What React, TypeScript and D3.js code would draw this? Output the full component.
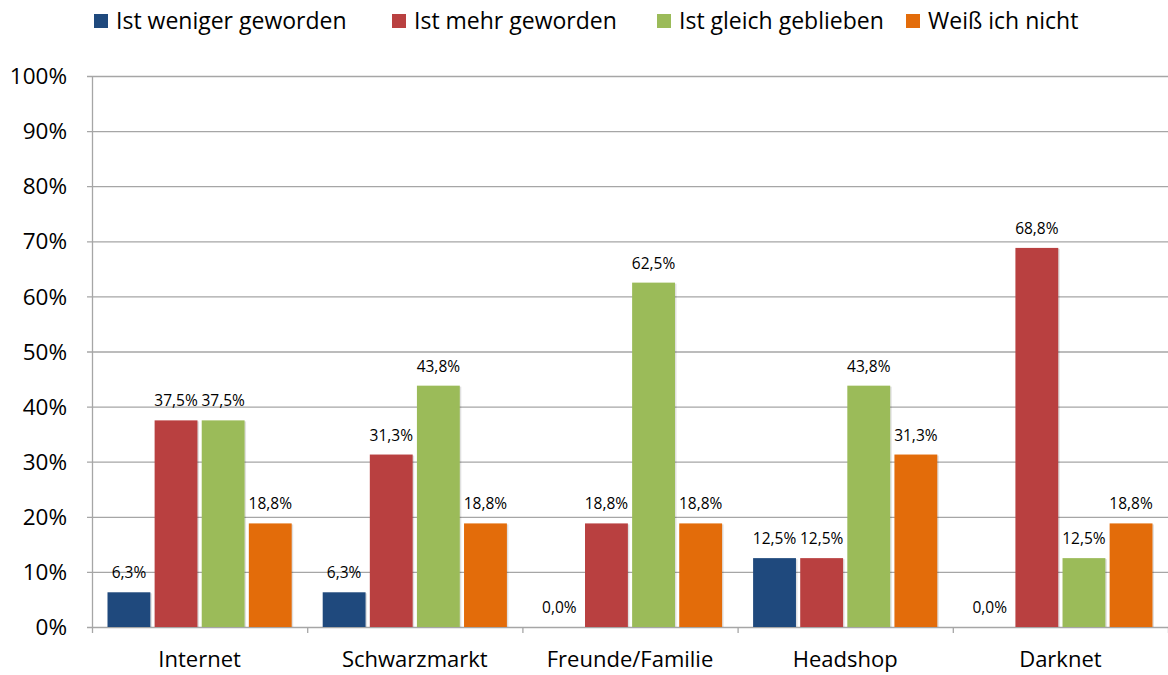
import React, { useEffect, useRef } from 'react';
import * as d3 from 'd3';

const categories = ['Internet', 'Schwarzmarkt', 'Freunde/Familie', 'Headshop', 'Darknet'];
const seriesNames = ['Ist weniger geworden', 'Ist mehr geworden', 'Ist gleich geblieben', 'Weiß ich nicht'];
const seriesColors = ['#1f497d', '#b94040', '#9bbb59', '#e36c0a'];
const weniger = [6.3, 6.3, 0.0, 12.5, 0.0];
const mehr = [37.5, 31.3, 18.8, 12.5, 68.8];
const gleich = [37.5, 43.8, 62.5, 43.8, 12.5];
const weissNicht = [18.8, 18.8, 18.8, 31.3, 18.8];
const yTicks = [0, 10, 20, 30, 40, 50, 60, 70, 80, 90, 100];

const seriesValues = [weniger, mehr, gleich, weissNicht];
const FONT = '"Open Sans", sans-serif';

const App: React.FC = () => {
  const ref = useRef<SVGSVGElement | null>(null);

  useEffect(() => {
    if (!ref.current) return;
    const svg = d3.select(ref.current);
    svg.selectAll('*').remove();

    const left = 92, right = 1168, top = 76, bottom = 627;

    const x0 = d3.scaleBand().domain(categories).range([left, right]).paddingInner(0).paddingOuter(0);
    const x1 = d3.scaleBand().domain(seriesNames).range([15.5, x0.bandwidth() - 15.5]).paddingInner(0.09).paddingOuter(0);
    const y = d3.scaleLinear().domain([0, 100]).range([bottom, top]);

    // gridlines
    svg.append('g')
      .selectAll('line')
      .data(yTicks)
      .enter()
      .append('line')
      .attr('x1', left - 5)
      .attr('x2', right)
      .attr('y1', d => y(d) + 0.5)
      .attr('y2', d => y(d) + 0.5)
      .attr('stroke', '#a6a6a6')
      .attr('stroke-width', 1.3);

    // y axis line
    svg.append('line')
      .attr('x1', left + 0.5).attr('x2', left + 0.5)
      .attr('y1', top).attr('y2', bottom + 1)
      .attr('stroke', '#a6a6a6').attr('stroke-width', 1.3);

    // y labels
    svg.append('g')
      .selectAll('text')
      .data(yTicks)
      .enter()
      .append('text')
      .attr('x', 67)
      .attr('y', d => y(d))
      .attr('dy', '0.36em')
      .attr('text-anchor', 'end')
      .attr('font-family', FONT)
      .attr('font-size', 22.5)
      .attr('fill', '#000')
      .text(d => `${d}%`);

    // category ticks
    const tickX = categories.map(c => x0(c) as number).concat([right]);
    svg.append('g')
      .selectAll('line')
      .data(tickX)
      .enter()
      .append('line')
      .attr('x1', d => d + 0.5).attr('x2', d => d + 0.5)
      .attr('y1', bottom).attr('y2', bottom + 6)
      .attr('stroke', '#a6a6a6').attr('stroke-width', 1.3);

    // category labels
    svg.append('g')
      .selectAll('text')
      .data(categories)
      .enter()
      .append('text')
      .attr('x', d => (x0(d) as number) + x0.bandwidth() / 2)
      .attr('y', 667)
      .attr('text-anchor', 'middle')
      .attr('font-family', FONT)
      .attr('font-size', 22)
      .attr('fill', '#000')
      .text(d => d);

    // bars
    const data = categories.flatMap((c, ci) =>
      seriesNames.map((s, si) => ({ c, s, si, v: seriesValues[si][ci] })));

    const groups = svg.append('g');
    groups.selectAll('rect.shadow')
      .data(data.filter(d => d.v > 0))
      .enter()
      .append('rect')
      .attr('class', 'shadow')
      .attr('x', d => (x0(d.c) as number) + (x1(d.s) as number) + 1.5)
      .attr('y', d => y(d.v) + 1)
      .attr('width', x1.bandwidth())
      .attr('height', d => bottom - y(d.v) - 1)
      .attr('fill', '#000')
      .attr('opacity', 0.12);

    groups.selectAll('rect.bar')
      .data(data.filter(d => d.v > 0))
      .enter()
      .append('rect')
      .attr('class', 'bar')
      .attr('x', d => (x0(d.c) as number) + (x1(d.s) as number))
      .attr('y', d => y(d.v))
      .attr('width', x1.bandwidth())
      .attr('height', d => bottom - y(d.v))
      .attr('fill', d => seriesColors[d.si]);

    // value labels
    groups.selectAll('text.val')
      .data(data)
      .enter()
      .append('text')
      .attr('class', 'val')
      .attr('x', d => (x0(d.c) as number) + (x1(d.s) as number) + x1.bandwidth() / 2)
      .attr('y', d => y(d.v) - 14)
      .attr('text-anchor', 'middle')
      .attr('font-family', FONT)
      .attr('font-size', 15.5)
      .attr('fill', '#000')
      .text(d => d.v.toFixed(1).replace('.', ',') + '%');

    // legend
    const legendX = [94, 392, 657, 906];
    const legend = svg.append('g')
      .selectAll('g')
      .data(seriesNames)
      .enter()
      .append('g')
      .attr('transform', (d, i) => `translate(${legendX[i]},21)`);
    legend.append('rect')
      .attr('x', 0).attr('y', -7)
      .attr('width', 14).attr('height', 14)
      .attr('fill', (d, i) => seriesColors[i]);
    legend.append('text')
      .attr('x', 22)
      .attr('y', 0)
      .attr('dy', '0.36em')
      .attr('font-family', FONT)
      .attr('font-size', 23)
      .attr('fill', '#000')
      .text(d => d);
  }, []);

  return (
    <svg
      ref={ref}
      width={1168}
      height={675}
      style={{ display: 'block', position: 'absolute', left: 0, top: 0, background: '#fff' }}
    />
  );
};

export default App;
